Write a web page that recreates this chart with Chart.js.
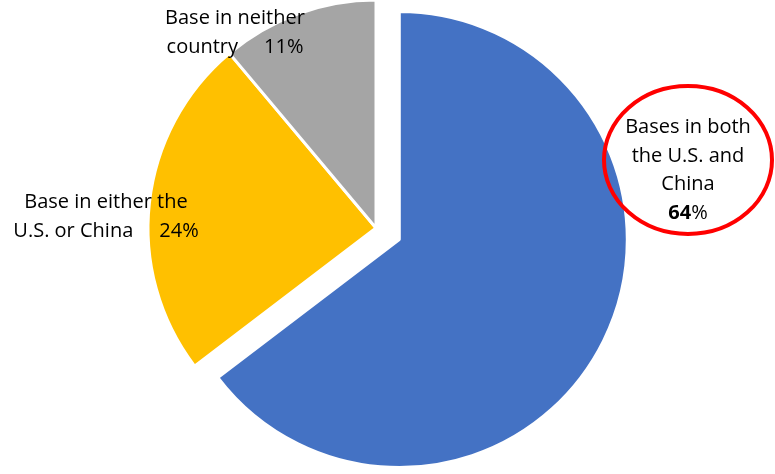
<!DOCTYPE html>
<html>
<head>
<meta charset="utf-8">
<script src="https://cdn.jsdelivr.net/npm/chart.js@4.4.1/dist/chart.umd.min.js"></script>
<style>
  html, body { margin: 0; padding: 0; background: #fff; }
  #wrap { width: 775px; height: 474px; }
</style>
</head>
<body>
<div id="wrap"><canvas id="chartBases" width="775" height="474"></canvas></div>
<script>
// Categorias (uma linha por item do array) e valores em %
const categorias = [
  ['Bases in both', 'the U.S. and', 'China'],
  ['Base in either the', 'U.S. or China'],
  ['Base in neither', 'country']
];
const valores = [64, 24, 11];
const cores = ['#4472C4', '#FFC000', '#A5A5A5'];
// deslocamento (px) de cada fatia ao longo da bissetriz - só a azul sai
const destaque = [26, 0, 0];

const FONTE = '"Open Sans", "Noto Sans", sans-serif';

// Onde cada rótulo fica (centro x, baseline da 1ª linha)
const posRotulos = [
  { x: 688, y: 133, pctLinhaPropria: true },
  { x: 106, y: 208, pctLinhaPropria: false },
  { x: 235, y: 24, pctLinhaPropria: false }
];

// O "offset" nativo do Chart.js também aumenta o raio em fatias > 180°,
// então a fatia é deslocada aqui sem mexer no raio
const explodirPlugin = {
  id: 'explodir',
  afterUpdate(chart) {
    chart.getDatasetMeta(0).data.forEach((arc, i) => {
      const d = destaque[i] || 0;
      if (!d) return;
      const meio = (arc.startAngle + arc.endAngle) / 2;
      arc.x += Math.cos(meio) * d;
      arc.y += Math.sin(meio) * d;
    });
  }
};

const rotulosPlugin = {
  id: 'rotulos',
  afterDraw(chart) {
    const ctx = chart.ctx;
    const lh = 28.5;
    const gap = 26;
    ctx.save();
    ctx.fillStyle = '#000';
    ctx.textBaseline = 'alphabetic';

    // elipse vermelha em volta do rótulo principal
    ctx.beginPath();
    ctx.ellipse(688, 160, 84, 74, 0, 0, Math.PI * 2);
    ctx.lineWidth = 4;
    ctx.strokeStyle = '#FF0000';
    ctx.stroke();

    categorias.forEach((linhas, i) => {
      const p = posRotulos[i];
      const pct = valores[i] + '%';
      ctx.font = '20px ' + FONTE;
      ctx.textAlign = 'center';
      const ultima = p.pctLinhaPropria ? linhas.length : linhas.length - 1;
      for (let k = 0; k < ultima; k++) {
        ctx.fillText(linhas[k], p.x, p.y + k * lh);
      }
      if (p.pctLinhaPropria) {
        // número em negrito, "%" normal
        ctx.font = 'bold 20px ' + FONTE;
        const wNum = ctx.measureText(String(valores[i])).width;
        ctx.font = '20px ' + FONTE;
        const wPct = ctx.measureText('%').width;
        const x0 = p.x - (wNum + wPct) / 2;
        const y = p.y + ultima * lh;
        ctx.textAlign = 'left';
        ctx.font = 'bold 20px ' + FONTE;
        ctx.fillText(String(valores[i]), x0, y);
        ctx.font = '20px ' + FONTE;
        ctx.fillText('%', x0 + wNum, y);
      } else {
        const txt = linhas[linhas.length - 1];
        const w1 = ctx.measureText(txt).width;
        const w2 = ctx.measureText(pct).width;
        const x0 = p.x - (w1 + gap + w2) / 2;
        const y = p.y + ultima * lh;
        ctx.textAlign = 'left';
        ctx.fillText(txt, x0, y);
        ctx.fillText(pct, x0 + w1 + gap, y);
      }
    });
    ctx.restore();
  }
};

new Chart(document.getElementById('chartBases').getContext('2d'), {
  type: 'pie',
  data: {
    labels: categorias.map(l => l.join(' ')),
    datasets: [{
      data: valores,
      backgroundColor: cores,
      borderColor: '#fff',
      borderWidth: 3,
      hoverOffset: 0
    }]
  },
  options: {
    responsive: false,
    animation: false,
    radius: 228,
    layout: { padding: { left: 0, right: 23, top: 0, bottom: 18 } },
    plugins: {
      legend: { display: false },
      tooltip: { enabled: false }
    }
  },
  plugins: [explodirPlugin, rotulosPlugin]
});
</script>
</body>
</html>
